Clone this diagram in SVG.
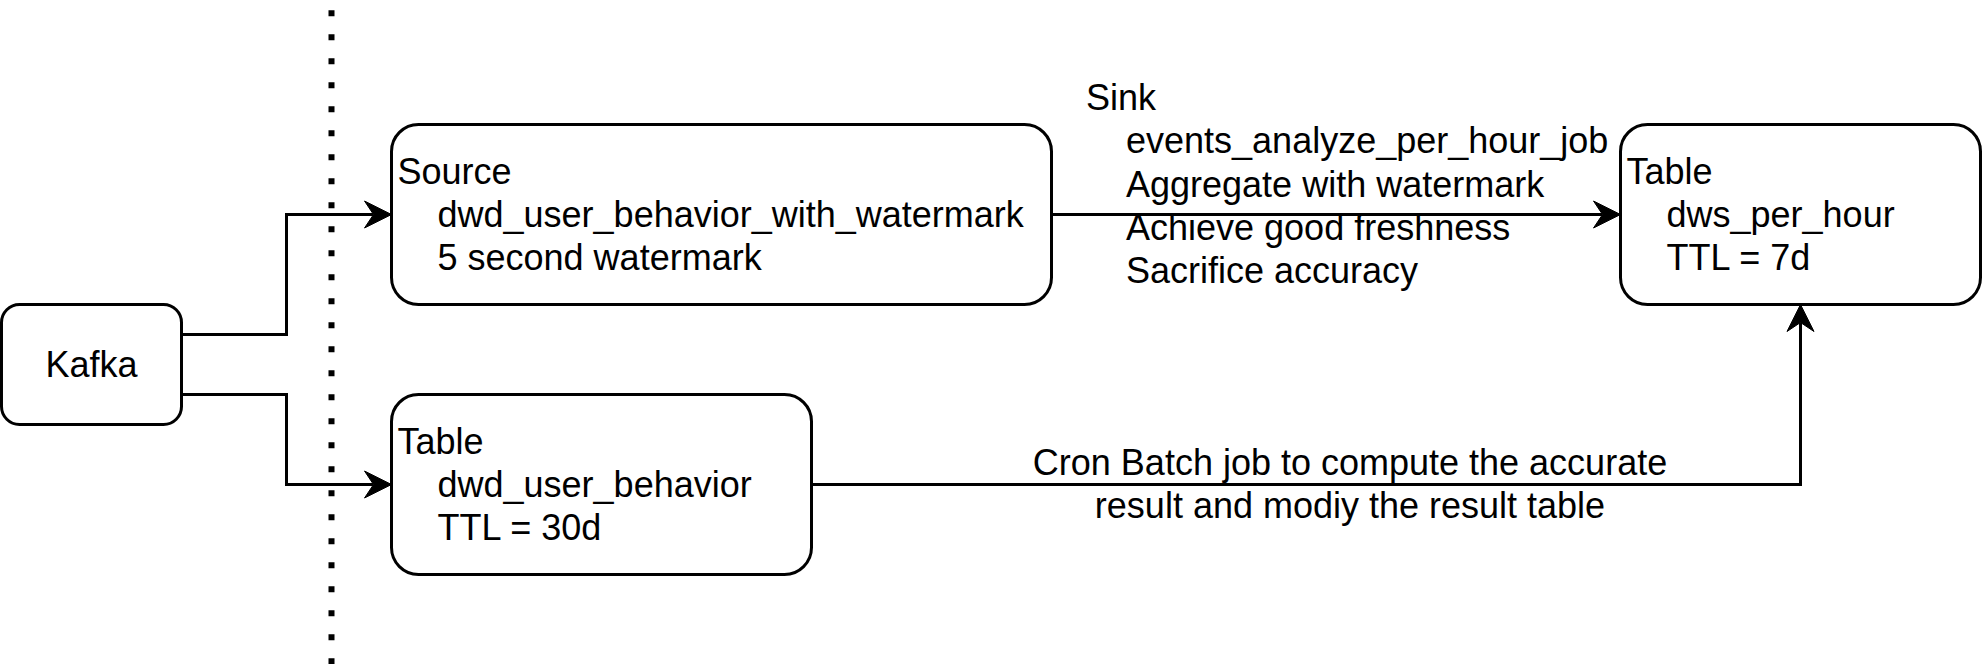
<svg xmlns="http://www.w3.org/2000/svg" width="1983" height="669" viewBox="0 0 1983 669">
  <style>
    .box { fill: #ffffff; stroke: #000000; stroke-width: 3; }
    .edge { fill: none; stroke: #000000; stroke-width: 3; }
    .sep { fill: none; stroke: #000000; stroke-width: 6; stroke-dasharray: 6 18; }
    text { font-family: "Liberation Sans", Arial, Helvetica, sans-serif; font-size: 36px; fill: #000000; }
    .c { text-anchor: middle; }
  </style>
  <defs>
    <marker id="arrow" markerUnits="userSpaceOnUse" viewBox="-30 -16 32 32" markerWidth="32" markerHeight="32" refX="-18" refY="0" orient="auto">
      <path d="M0,0 L-27,-13.5 L-18,0 L-27,13.5 Z" fill="#000000" stroke="#000000" stroke-width="1"/>
    </marker>
  </defs>
  <rect width="1983" height="669" fill="#ffffff"/>

  <line id="separator" class="sep" x1="331.5" y1="10.3" x2="331.5" y2="664"/>

  <g id="connectors">
    <path class="edge" d="M181.5 334.5 H286.5 V214.5 H373.5" marker-end="url(#arrow)"/>
    <path class="edge" d="M181.5 394.5 H286.5 V484.5 H373.5" marker-end="url(#arrow)"/>
    <path class="edge" d="M1051.5 214.5 H1602.5" marker-end="url(#arrow)"/>
    <path class="edge" d="M811.5 484.5 H1800.5 V322.5" marker-end="url(#arrow)"/>
  </g>

  <g id="kafka">
    <rect class="box" x="1.5" y="304.5" width="180" height="120" rx="18" ry="18"/>
    <text class="c" x="91.5" y="377">Kafka</text>
  </g>

  <g id="source">
    <rect class="box" x="391.5" y="124.5" width="660" height="180" rx="27" ry="27"/>
    <text x="397.5" y="183.8">Source</text>
    <text x="437.5" y="227">dwd_user_behavior_with_watermark</text>
    <text x="437.5" y="270.2">5 second watermark</text>
  </g>

  <g id="table-dwd">
    <rect class="box" x="391.5" y="394.5" width="420" height="180" rx="27" ry="27"/>
    <text x="397.5" y="453.8">Table</text>
    <text x="437.5" y="497">dwd_user_behavior</text>
    <text x="437.5" y="540.2">TTL = 30d</text>
  </g>

  <g id="table-dws">
    <rect class="box" x="1620.5" y="124.5" width="360" height="180" rx="27" ry="27"/>
    <text x="1626.5" y="183.8">Table</text>
    <text x="1666.5" y="227">dws_per_hour</text>
    <text x="1666.5" y="270.2">TTL = 7d</text>
  </g>

  <g id="sink-label">
    <text x="1086" y="110.1">Sink</text>
    <text x="1126" y="153.3">events_analyze_per_hour_job</text>
    <text x="1126" y="196.5">Aggregate with watermark</text>
    <text x="1126" y="239.7">Achieve good freshness</text>
    <text x="1126" y="282.9">Sacrifice accuracy</text>
  </g>

  <g id="cron-label">
    <text class="c" x="1350" y="474.5">Cron Batch job to compute the accurate</text>
    <text class="c" x="1350" y="517.7">result and modiy the result table</text>
  </g>
</svg>
